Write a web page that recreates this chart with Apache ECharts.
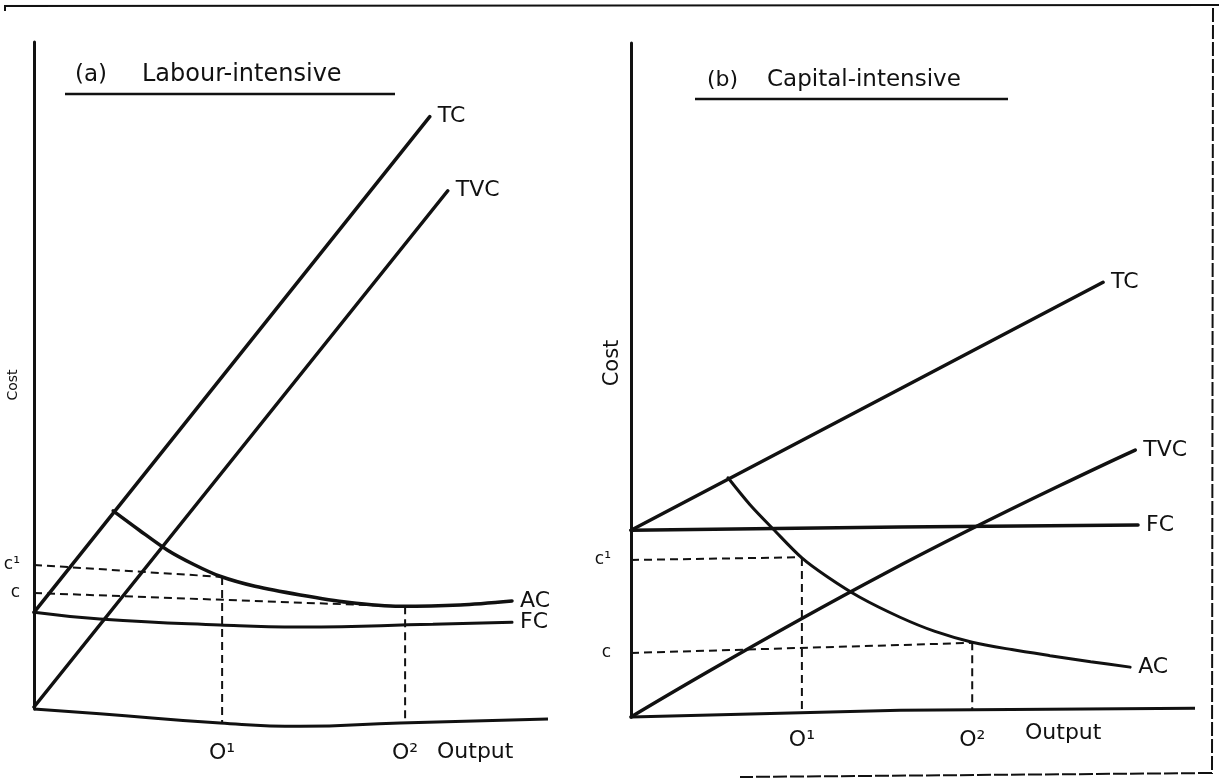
<!DOCTYPE html>
<html style="height: 100%">

<head>
    <meta charset="utf-8">
    <script src="https://cdn.jsdelivr.net/npm/echarts@6/dist/echarts.min.js"></script>
</head>

<body style="height: 100%; margin: 0; background: #fff">
    <div id="chart" style="width: 1219px; height: 780px"></div>
    <script type="text/javascript">
        // (a) labour-intensive: output 0-100 along x, cost 0-100 along y
        var tcA = [[0, 14.5], [77, 88.8]];
        var tvcA = [[0, 0.3], [80.5, 77.7]];
        var acA = [[15.4, 29.7], [20.5, 26.8], [26.0, 23.8], [31.0, 21.7], [36.2, 19.9], [43.0, 18.4],
            [51.8, 17.1], [61.0, 16.0], [71.2, 15.4], [82.9, 15.6], [93.0, 16.2]];
        var fcA = [[0, 14.5], [12.8, 13.5], [36.2, 12.6], [51.8, 12.3], [77.6, 12.7], [93.0, 13.0]];
        var baseA = [[0, 0], [12.8, -0.7], [36.2, -2.1], [51.8, -2.6], [71.2, -2.1], [100, -1.5]];
        var cHighA = [[0, 21.6], [36.6, 19.8]];
        var cLowA = [[0, 17.4], [71.2, 15.4]];
        var o1A = [[36.6, 19.8], [36.6, -2.1]];
        var o2A = [[72.2, 15.4], [72.2, -2.1]];
        var costTicksA = [21.6, 17.4];
        var outputTicksA = [36.6, 72.2];

        // (b) capital-intensive
        var tcB = [[0, 27.7], [83.7, 64.5]];
        var tvcB = [[0, 0], [45, 21.3], [89.4, 39.6]];
        var fcB = [[0, 27.7], [47.7, 28.2], [89.9, 28.5]];
        var acB = [[17.2, 35.5], [21.1, 31.5], [25.2, 27.9], [30.3, 23.6], [34.8, 20.8], [40.5, 17.8],
            [47.7, 14.8], [53.9, 12.7], [60.5, 11.1], [67.5, 10.0], [74.3, 9.1], [81.5, 8.2], [88.5, 7.4]];
        var baseB = [[0, 0], [47.7, 1.0], [100, 1.3]];
        var cHighB = [[0, 23.3], [30.3, 23.7]];
        var cLowB = [[0, 9.5], [60.5, 11.0]];
        var o1B = [[30.3, 23.6], [30.3, 1.0]];
        var o2B = [[60.5, 11.1], [60.5, 1.1]];
        var costTicksB = [23.3, 9.5];
        var outputTicksB = [30.3, 60.5];

        var costTickLabels = ['c¹', 'c'];
        var outputTickLabels = ['O¹', 'O²'];

        var ink = '#111';
        var font = 'DejaVu Sans';

        function curve(name, data, g, width, smooth) {
            return {
                name: name, type: 'line', xAxisIndex: g, yAxisIndex: g, data: data,
                symbol: 'none', smooth: smooth || false, clip: false,
                lineStyle: { color: ink, width: width, cap: 'round' },
                endLabel: { show: true, formatter: '{a}', distance: 8, color: ink, fontSize: 22, fontFamily: font }
            };
        }
        function plain(data, g, width, smooth) {
            return {
                type: 'line', xAxisIndex: g, yAxisIndex: g, data: data, symbol: 'none',
                smooth: smooth || false, clip: false,
                lineStyle: { color: ink, width: width }
            };
        }
        function dashed(data, g) {
            return {
                type: 'line', xAxisIndex: g, yAxisIndex: g, data: data, symbol: 'none', clip: false,
                lineStyle: { color: ink, width: 2, type: [8, 5] }
            };
        }
        function xAxis(g, ticks, margin) {
            return {
                gridIndex: g, type: 'value', min: 0, max: 100,
                axisLine: { show: false }, axisTick: { show: false }, splitLine: { show: false },
                axisLabel: {
                    customValues: ticks, margin: margin, color: ink, fontSize: 22, fontFamily: font,
                    formatter: function (v) { return outputTickLabels[ticks.indexOf(v)]; }
                }
            };
        }
        function yAxis(g, ticks, margin) {
            return {
                gridIndex: g, type: 'value', min: 0, max: 100,
                axisLine: { show: true, lineStyle: { color: ink, width: 3 } },
                axisTick: { show: false }, splitLine: { show: false },
                axisLabel: {
                    customValues: ticks, margin: margin, color: ink, fontSize: 17, fontFamily: font,
                    formatter: function (v) { return costTickLabels[ticks.indexOf(v)]; }
                }
            };
        }
        function text(str, x, y, size, align, rot) {
            return {
                type: 'text', x: x, y: y, rotation: rot || 0,
                style: { text: str, fill: ink, font: size + 'px "' + font + '"', align: align, verticalAlign: 'middle' }
            };
        }
        function rule(x1, y1, x2, y2, w) {
            return { type: 'line', shape: { x1: x1, y1: y1, x2: x2, y2: y2 }, style: { stroke: ink, lineWidth: w } };
        }

        var myChart = echarts.init(document.getElementById('chart'));
        myChart.setOption({
            animation: false,
            backgroundColor: '#fff',
            grid: [
                { left: 34, top: 42, width: 514, height: 667 },
                { left: 631, top: 43, width: 564, height: 674 }
            ],
            xAxis: [xAxis(0, outputTicksA, 33), xAxis(1, outputTicksB, 12)],
            yAxis: [yAxis(0, costTicksA, 14), yAxis(1, costTicksB, 20)],
            graphic: [
                text('(a)', 75, 75, 23, 'left'),
                text('Labour-intensive', 142, 75, 24, 'left'),
                rule(65, 94, 395, 94, 2.5),
                text('(b)', 707, 80, 22, 'left'),
                text('Capital-intensive', 767, 80, 23, 'left'),
                rule(695, 99, 1008, 99, 2.5),
                text('Cost', 13, 385, 14, 'center', Math.PI / 2),
                text('Cost', 613, 363, 21, 'center', Math.PI / 2),
                text('Output', 437, 752, 22, 'left'),
                text('Output', 1025, 733, 22, 'left'),
                {
                    type: 'polyline',
                    shape: { points: [[5, 11], [5, 6], [1219, 5]] },
                    style: { stroke: ink, lineWidth: 2, fill: null }
                },
                {
                    type: 'polyline',
                    shape: { points: [[1213, 8], [1212, 773], [740, 777]] },
                    style: { stroke: ink, lineWidth: 2, fill: null, lineDash: [14, 3] }
                }
            ],
            series: [
                plain(baseA, 0, 3, 0.5),
                dashed(cHighA, 0),
                dashed(cLowA, 0),
                dashed(o1A, 0),
                dashed(o2A, 0),
                curve('TC', tcA, 0, 3.5),
                curve('TVC', tvcA, 0, 3.5),
                curve('AC', acA, 0, 3.5, 0.3),
                curve('FC', fcA, 0, 3, 0.5),

                plain(baseB, 1, 3),
                dashed(cHighB, 1),
                dashed(cLowB, 1),
                dashed(o1B, 1),
                dashed(o2B, 1),
                curve('TC', tcB, 1, 3.5),
                curve('TVC', tvcB, 1, 3.5, 0.5),
                curve('FC', fcB, 1, 3.5),
                curve('AC', acB, 1, 3, 0.3)
            ]
        });
    </script>
</body>

</html>
